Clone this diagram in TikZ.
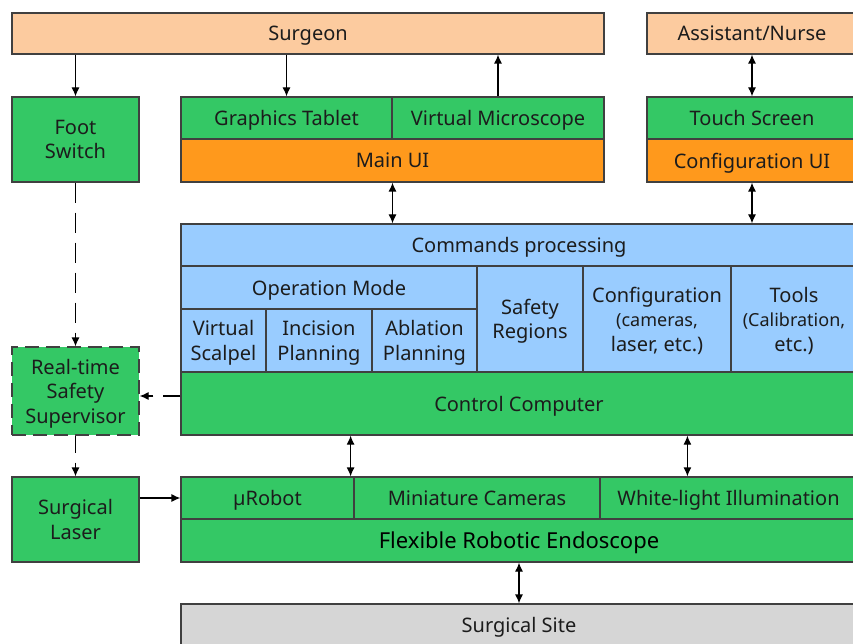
\documentclass[tikz,border=0pt]{standalone}
\usepackage{fontspec}
\setmainfont{Noto Sans}
\usetikzlibrary{arrows.meta,positioning}
\definecolor{peach}{HTML}{FCCB9F}
\definecolor{leaf}{HTML}{34C865}
\definecolor{amber}{HTML}{FF991C}
\definecolor{sky}{HTML}{99CCFF}
\definecolor{ash}{HTML}{D6D6D6}
\definecolor{edge}{HTML}{404040}
\definecolor{ink}{HTML}{1C1C1C}
\newcommand{\smallfont}{\fontsize{18}{21}\selectfont}

\begin{document}
\begin{tikzpicture}[x=1pt,y=-1pt,
  box/.style={draw=edge, line width=1.2pt, inner sep=0pt, align=center,
    text=ink, text depth=0pt, font=\fontsize{20}{24.5}\selectfont},
  peachbox/.style={box, fill=peach},
  greenbox/.style={box, fill=leaf},
  orangebox/.style={box, fill=amber},
  bluebox/.style={box, fill=sky},
  greybox/.style={box, fill=ash},
  arr/.style={-{Latex[length=9pt,width=8pt]}, line width=1.2pt, draw=black},
  darr/.style={{Latex[length=9pt,width=8pt]}-{Latex[length=9pt,width=8pt]}, line width=1.2pt, draw=black},
  dashline/.style={dash pattern=on 20pt off 10pt}]
\useasboundingbox (0,0) rectangle (853,644);
\clip (0,0) rectangle (853,644);
% people
\node[peachbox, minimum width=592, minimum height=41] (surgeon) at (308,33.5) {Surgeon};
\node[peachbox, minimum width=210, minimum height=41] (nurse) at (752,33.5) {Assistant/Nurse};
% user interfaces
\node[greenbox, minimum width=127, minimum height=85] (fsw) at (75.5,139.5) {Foot\\Switch};
\node[greenbox, minimum width=211, minimum height=42] (tablet) at (286.5,118) {Graphics Tablet};
\node[greenbox, minimum width=212, minimum height=42] (micro) at (498,118) {Virtual Microscope};
\node[orangebox, minimum width=423, minimum height=43] (mainui) at (392.5,160.5) {Main UI};
\node[greenbox, minimum width=210, minimum height=42] (touch) at (752,118) {Touch Screen};
\node[orangebox, minimum width=210, minimum height=43] (confui) at (752,160.5) {Configuration UI};
% control computer
\node[bluebox, minimum width=676, minimum height=42] (cmd) at (519,245) {Commands processing};
\node[bluebox, minimum width=296, minimum height=43] (opmode) at (329,287.5) {Operation Mode};
\node[bluebox, minimum width=85, minimum height=63] (vscalpel) at (223.5,340.5) {Virtual\\Scalpel};
\node[bluebox, minimum width=106, minimum height=63] (incision) at (319,340.5) {Incision\\Planning};
\node[bluebox, minimum width=105, minimum height=63] (ablation) at (424.5,340.5) {Ablation\\Planning};
\node[bluebox, minimum width=106, minimum height=106] (safety) at (530,319) {Safety\\Regions};
\node[bluebox, minimum width=148, minimum height=106] (config) at (657,319) {Configuration\\\smallfont (cameras,\\laser, etc.)};
\node[bluebox, minimum width=126, minimum height=106] (tools) at (794,319) {Tools\\\smallfont (Calibration,\\etc.)};
\node[greenbox, minimum width=676, minimum height=63] (ctrl) at (519,403.5) {Control Computer};
% safety chain
\node[greenbox, dash pattern=on 14pt off 7pt, minimum width=127, minimum height=88] (sup) at (75.5,391) {Real-time\\Safety\\Supervisor};
\node[greenbox, minimum width=127, minimum height=85] (laser) at (75.5,519.5) {Surgical\\Laser};
% endoscope
\node[greenbox, minimum width=173, minimum height=42] (urobot) at (267.5,498) {µRobot};
\node[greenbox, minimum width=246, minimum height=42] (cams) at (477,498) {Miniature Cameras};
\node[greenbox, minimum width=257, minimum height=42] (white) at (728.5,498) {White-light Illumination};
\node[greenbox, minimum width=676, minimum height=43, text=black, font=\fontsize{22}{26}\selectfont] (endo) at (519,540.5) {Flexible Robotic Endoscope};
\node[greybox, minimum width=676, minimum height=42] (site) at (519,625) {Surgical Site};
% connectors
\draw[arr] (fsw.north |- surgeon.south) -- (fsw.north);
\draw[arr] (tablet.north |- surgeon.south) -- (tablet.north);
\draw[arr] (micro.north) -- (micro.north |- surgeon.south);
\draw[darr] (nurse.south) -- (touch.north);
\draw[darr] (mainui.south) -- (mainui.south |- cmd.north);
\draw[darr] (confui.south) -- (confui.south |- cmd.north);
\draw[arr, dashline] (fsw.south) -- (sup.north);
\draw[arr, dash pattern=on 17pt off 10pt] ([yshift=7.5]ctrl.west) -- ([yshift=7.5]ctrl.west -| sup.east);
\draw[arr, dash pattern=on 17pt off 10pt] (sup.south) -- (laser.north);
\draw[arr] (laser.east |- urobot.west) -- (urobot.west);
\draw[darr] ([xshift=-4]urobot.north east |- ctrl.south) -- ([xshift=-4]urobot.north east);
\draw[darr] ([xshift=88]white.north west |- ctrl.south) -- ([xshift=88]white.north west);
\draw[darr] (endo.south) -- (site.north);
\end{tikzpicture}
\end{document}
